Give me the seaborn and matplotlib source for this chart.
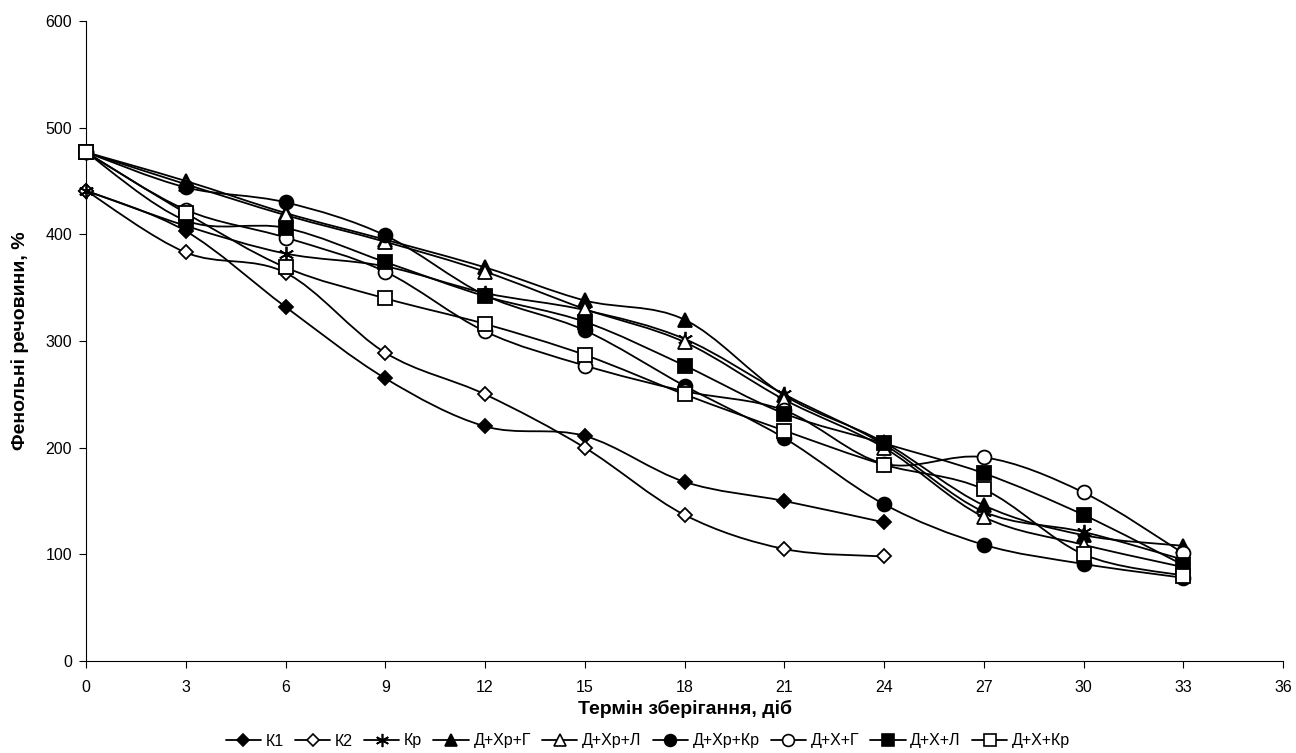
import numpy as np
import pandas as pd
import matplotlib
matplotlib.use("Agg")
import matplotlib.pyplot as plt
from matplotlib.path import Path
from matplotlib.patches import PathPatch
from matplotlib.lines import Line2D
import seaborn as sns

days = [0, 3, 6, 9, 12, 15, 18, 21, 24, 27, 30, 33]
series_names = ["К1", "К2", "Кр", "Д+Хр+Г", "Д+Хр+Л", "Д+Хр+Кр", "Д+Х+Г", "Д+Х+Л", "Д+Х+Кр"]
k1 = [441, 403, 332, 265, 220, 211, 168, 150, 130]
k2 = [441, 383, 364, 289, 250, 200, 137, 105, 98]
kr = [441, 408, 382, 370, 345, 329, 302, 250, 203, 140, 121, 95]
d_xr_g = [477, 450, 420, 395, 369, 338, 320, 249, 205, 146, 118, 108]
d_xr_l = [477, 447, 418, 393, 365, 330, 299, 245, 200, 135, 109, 88]
d_xr_kr = [477, 444, 430, 399, 343, 310, 258, 209, 147, 109, 91, 78]
d_x_g = [477, 423, 397, 365, 309, 277, 253, 235, 185, 191, 158, 101]
d_x_l = [477, 413, 406, 374, 342, 318, 277, 232, 204, 176, 137, 90]
d_x_kr = [477, 420, 369, 340, 316, 287, 250, 216, 184, 161, 100, 80]
values = [k1, k2, kr, d_xr_g, d_xr_l, d_xr_kr, d_x_g, d_x_l, d_x_kr]

x_ticks = list(range(0, 37, 3))
y_ticks = list(range(0, 601, 100))

# marker styles: (marker, filled, size)
styles = [("D", True, 7.5), ("D", False, 7.5), ((6, 2, 0), True, 11),
          ("^", True, 10), ("^", False, 10), ("o", True, 10),
          ("o", False, 10), ("s", True, 10), ("s", False, 10)]

sns.set_style("white")
plt.rcParams['font.family'] = ['Liberation Sans', 'DejaVu Sans']
plt.rcParams['text.color'] = 'black'
plt.rcParams['axes.labelcolor'] = 'black'

fig = plt.figure(figsize=(12.96, 7.53), dpi=100)
ax = fig.add_axes([86/1296, 92/753, (1283-86)/1296, 640/753])


def smooth_path(xs, ys):
    pts = np.column_stack([xs, ys]).astype(float)
    n = len(pts)
    verts = [pts[0]]
    codes = [Path.MOVETO]
    for i in range(n - 1):
        p0 = pts[i - 1] if i > 0 else pts[i]
        p1 = pts[i]
        p2 = pts[i + 1]
        p3 = pts[i + 2] if i + 2 < n else pts[i + 1]
        c1 = p1 + (p2 - p0) / 6.0
        c2 = p2 - (p3 - p1) / 6.0
        verts += [c1, c2, p2]
        codes += [Path.CURVE4] * 3
    return Path(verts, codes)


handles = []
for idx, (name, vals, (mk, filled, ms)) in enumerate(zip(series_names, values, styles)):
    xs = days[:len(vals)]
    df = pd.DataFrame({"day": xs, "val": vals})
    z = 3 + idx
    patch = PathPatch(smooth_path(xs, vals), facecolor="none", edgecolor="black",
                      lw=1.3, zorder=z)
    ax.add_patch(patch)
    fc = "black" if filled else "white"
    sns.lineplot(data=df, x="day", y="val", ax=ax, marker=mk, markersize=ms,
                 markerfacecolor=fc, markeredgecolor="black", markeredgewidth=1.3,
                 linestyle="", color="black", zorder=z + 0.5, clip_on=False)
    handles.append(Line2D([0], [0], color="black", lw=1.3, marker=mk, markersize=ms - 1.5,
                          markerfacecolor=fc, markeredgecolor="black", markeredgewidth=1.2))

ax.set_xlim(0, 36)
ax.set_ylim(0, 600)
ax.set_xticks(x_ticks)
ax.set_yticks(y_ticks)
ax.tick_params(axis="both", direction="out", length=5, width=0.8, labelsize=11.5,
               bottom=True, left=True, colors="black")
ax.tick_params(axis="x", pad=9)
ax.tick_params(axis="y", pad=5)
for s in ["top", "right"]:
    ax.spines[s].set_visible(False)
for s in ["left", "bottom"]:
    ax.spines[s].set_color("black")
    ax.spines[s].set_linewidth(0.8)

ax.set_xlabel("Термін зберігання, діб", fontsize=14, fontweight="bold", labelpad=3)
ax.set_ylabel("Фенольні речовини, %", fontsize=14, fontweight="bold", labelpad=12)

fig.legend(handles, series_names, loc="center", bbox_to_anchor=(0.5, 12/753),
           ncol=9, frameon=False, fontsize=11.5, handlelength=2.2, handletextpad=0.3,
           columnspacing=0.7)

fig.savefig("out.png", dpi=100)
